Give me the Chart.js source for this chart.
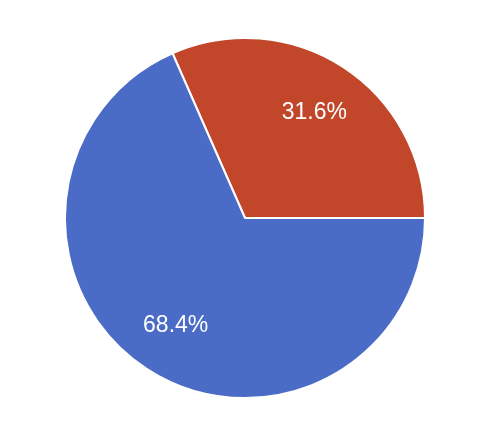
<!doctype html>
<html>
<head>
    <title>Pie</title>
    <script src="https://cdn.jsdelivr.net/npm/chart.js"></script>
    <style>
        html, body { margin: 0; padding: 0; background: #fff; }
        #box { width: 488px; height: 442px; }
    </style>
</head>
<body>
    <div id="box"><canvas id="pie"></canvas></div>
    <script>
        // values
        var labels = ['B', 'A'];
        var values = [31.6, 68.4];
        var colors = ['#c2472a', '#4a6bc6'];

        // white percentage text inside each slice
        var sliceLabels = {
            id: 'sliceLabels',
            afterDatasetsDraw: function (chart) {
                var ctx = chart.ctx;
                var meta = chart.getDatasetMeta(0);
                var total = values.reduce(function (a, b) { return a + b; }, 0);
                ctx.save();
                ctx.fillStyle = '#ffffff';
                ctx.font = '23px "Liberation Sans", Arial, sans-serif';
                ctx.textAlign = 'center';
                ctx.textBaseline = 'middle';
                meta.data.forEach(function (arc, i) {
                    var mid = (arc.startAngle + arc.endAngle) / 2;
                    var r = arc.outerRadius * 0.705;
                    var x = arc.x + Math.cos(mid) * r;
                    var y = arc.y + Math.sin(mid) * r;
                    ctx.fillText((values[i] / total * 100).toFixed(1) + '%', x, y + 1);
                });
                ctx.restore();
            }
        };

        var pie = new Chart(document.getElementById('pie').getContext('2d'), {
            type: 'pie',
            data: {
                labels: labels,
                datasets: [{
                    data: values,
                    backgroundColor: colors,
                    borderColor: '#ffffff',
                    borderWidth: 2
                }]
            },
            options: {
                responsive: true,
                maintainAspectRatio: false,
                animation: false,
                rotation: -23.76,
                layout: { padding: { top: 37, bottom: 43, left: 64, right: 62 } },
                plugins: {
                    legend: { display: false },
                    tooltip: { enabled: false }
                }
            },
            plugins: [sliceLabels]
        });
    </script>
</body>
</html>
